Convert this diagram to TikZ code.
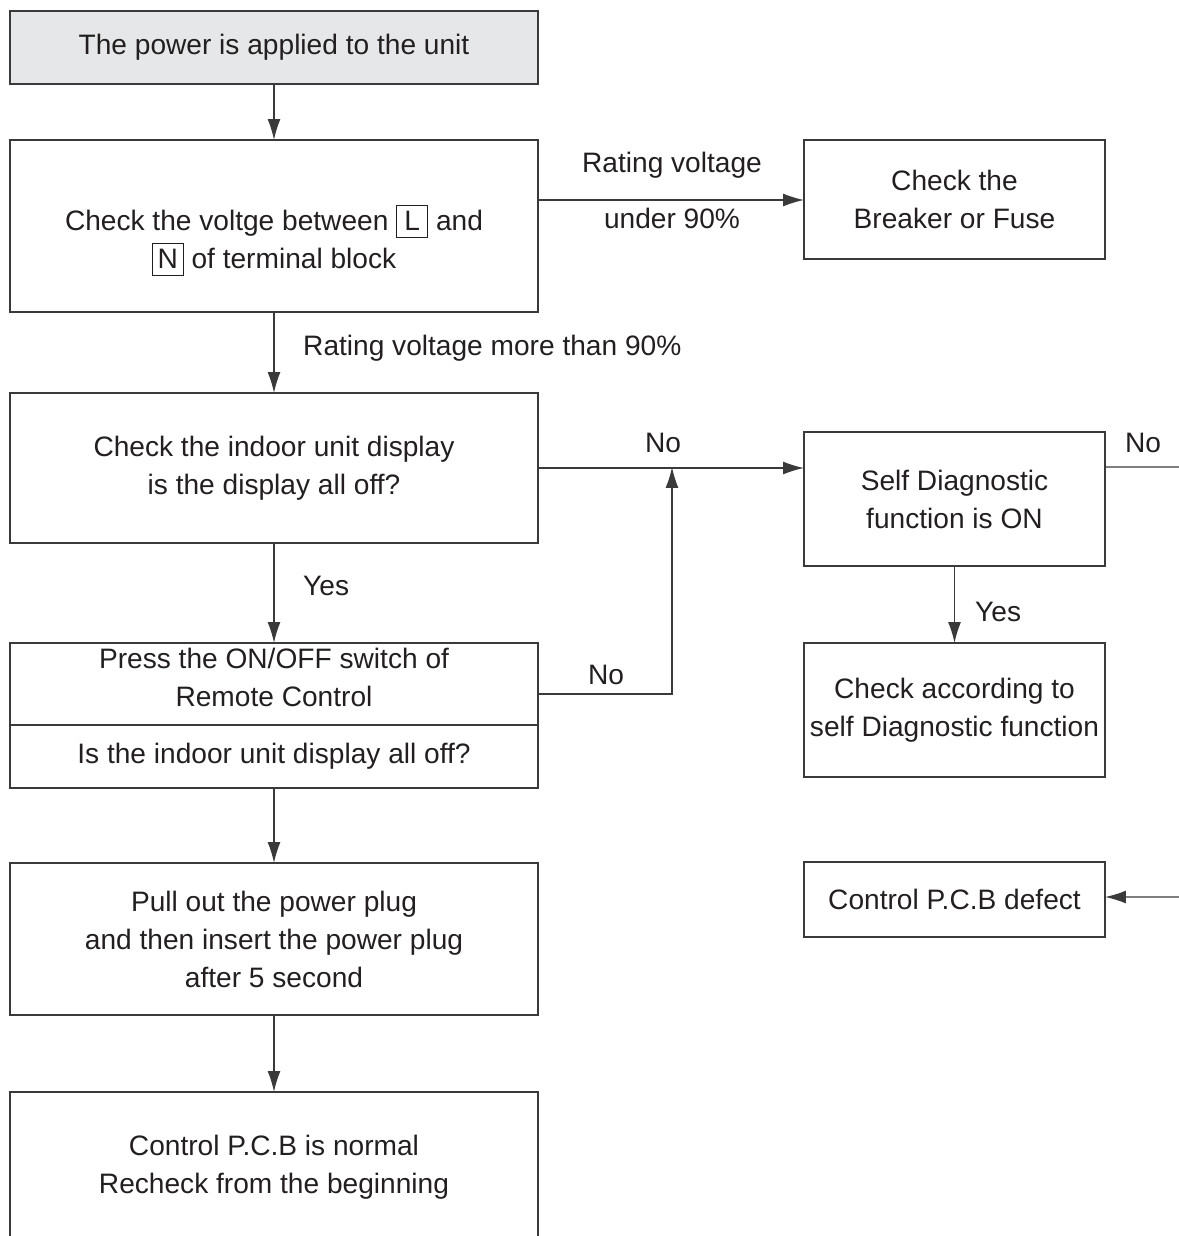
\documentclass[tikz,border=0pt]{standalone}
\usepackage{fontspec}
\setmainfont{Liberation Sans}
\usepackage{xcolor}
\usepackage{tikz}
\usetikzlibrary{positioning, arrows.meta}

\definecolor{inkgray}{HTML}{231F20}
\definecolor{linegray}{HTML}{3A3A3A}
\definecolor{startfill}{HTML}{E6E7E8}
\newcommand{\termbox}[1]{{\setlength{\fboxsep}{0pt}\setlength{\fboxrule}{0.6pt}\fbox{\rule[-3.4pt]{0pt}{17.6pt}\makebox[17pt]{#1}}}}
\newcommand{\shifttext}[2]{\raisebox{#1}[\height][\depth]{\begin{tabular}{@{}c@{}}#2\end{tabular}}}

\begin{document}
\begin{tikzpicture}[x=0.02cm, y=-0.02cm, >={Latex[length=4.2mm,width=2.6mm]},
		font=\fontsize{16}{21.6}\selectfont, text=inkgray]
	\tikzstyle{stepbox}=[rectangle,draw=linegray,line width=0.8pt,align=center,inner sep=0pt,outer sep=0pt]
	\tikzstyle{leftbox}=[stepbox,minimum width=10.56cm]
	\tikzstyle{rightbox}=[stepbox,minimum width=6.02cm]
	\tikzstyle{conn}=[draw=linegray,line width=0.8pt]
	\useasboundingbox (0,0) rectangle (1178,1236);
	% left column
	\node[leftbox,fill=startfill,minimum height=1.46cm](power) at (274,47.5) {The power is applied to the unit};
	\node[leftbox,minimum height=3.44cm](volt) at (274,226) {\shifttext{-0.32cm}{Check the voltge between \termbox{L} and\\\termbox{N} of terminal block}};
	\node[leftbox,minimum height=3.0cm](display) at (274,468) {Check the indoor unit display\\is the display all off?};
	\node[leftbox,minimum height=1.64cm](press) at (274,684) {\shifttext{0.08cm}{Press the ON/OFF switch of\\Remote Control}};
	\node[leftbox,minimum height=1.26cm,anchor=north](presschk) at (press.south) {Is the indoor unit display all off?};
	\node[leftbox,minimum height=3.04cm](plug) at (274,939) {Pull out the power plug\\and then insert the power plug\\after 5 second};
	\node[leftbox,minimum height=3.2cm,anchor=north](normal) at (274,1092) {\shifttext{0.1cm}{Control P.C.B is normal\\Recheck from the beginning}};
	% right column
	\node[rightbox,minimum height=2.38cm](breaker) at (954.5,199.5) {Check the\\Breaker or Fuse};
	\node[rightbox,minimum height=2.68cm](selfdiag) at (954.5,499) {Self Diagnostic\\function is ON};
	\node[rightbox,minimum height=2.68cm](accord) at (954.5,710) {Check according to\\self Diagnostic function};
	\node[rightbox,minimum height=1.5cm](defect) at (954.5,899.5) {Control P.C.B defect};
	% helper points
	\coordinate (join) at (672,467);
	\coordinate (rtop) at (1200,467);
	\coordinate (rbot) at (1200,897);
	% connectors
	\draw[conn,->](power) -- (volt);
	\draw[conn,->](volt) -- (display);
	\draw[conn,->](display) -- (press);
	\draw[conn,->](presschk) -- (plug);
	\draw[conn,->](plug) -- (normal);
	\draw[conn,->]([yshift=0.52cm]volt.east) -- ([yshift=0.52cm]volt.east -| breaker.west);
	\draw[conn,->](display.east) -- (display.east -| selfdiag.west);
	\draw[conn,->]([yshift=-0.2cm]press.east) -| (join);
	\draw[conn,->](selfdiag) -- (accord);
	\draw[conn,->]([yshift=0.64cm]selfdiag.east) -- (rtop) -- (rbot) -- (rbot -| defect.east);
	% labels
	\node(lblrv) at (672,165) {Rating voltage};
	\node(lblun) at (672,218) {under 90\%};
	\node[anchor=west](lblmore) at (297,348) {Rating voltage more than 90\%};
	\node[anchor=west](lblyes1) at (297,586) {Yes};
	\node[anchor=west](lblyes2) at (969,612) {Yes};
	\node(lblno1) at (663,443) {No};
	\node(lblno2) at (606,675) {No};
	\node(lblno3) at (1143,443) {No};
\end{tikzpicture}
\end{document}
